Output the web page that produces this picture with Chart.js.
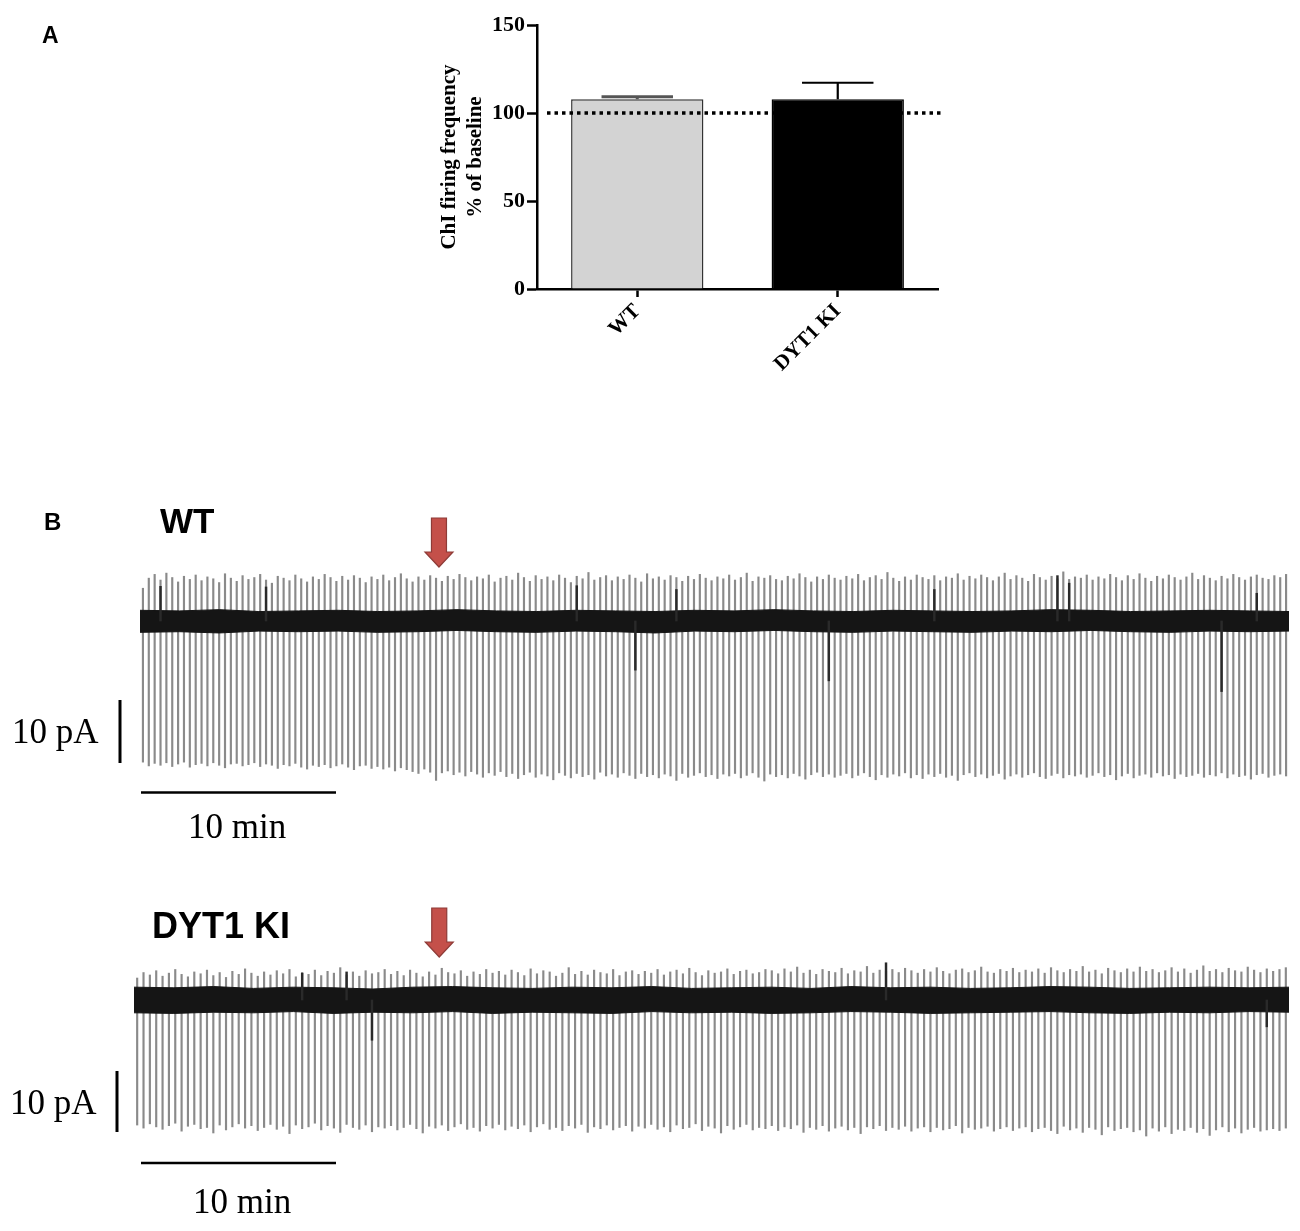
<!DOCTYPE html>
<html><head><meta charset="utf-8">
<script src="https://cdn.jsdelivr.net/npm/chart.js@4.4.1/dist/chart.umd.min.js"></script>
<style>
html,body{margin:0;padding:0;background:#fff;}
#page{position:relative;width:1300px;height:1231px;overflow:hidden;background:#fff;}
canvas{position:absolute;}
svg{position:absolute;left:0;top:0;pointer-events:none;}
</style></head><body>
<div id="page">
<canvas id="barA" width="560" height="420" style="left:400px;top:0px"></canvas>
<canvas id="wtTrace" width="1149" height="295" style="left:140px;top:505px"></canvas>
<canvas id="dytTrace" width="1155" height="250" style="left:134px;top:900px"></canvas>
<svg width="1300" height="1231" viewBox="0 0 1300 1231">
  <g font-family="Liberation Sans, Arial, sans-serif" font-weight="bold" fill="#000">
    <text x="42" y="43" font-size="23">A</text>
    <text x="44" y="530" font-size="24">B</text>
    <text x="160" y="533" font-size="35">WT</text>
    <text x="152" y="938" font-size="36">DYT1 KI</text>
  </g>
  <g stroke="#000" stroke-width="3">
    <line x1="120" y1="700" x2="120" y2="763"/>
    <line x1="141" y1="792.5" x2="336" y2="792.5" stroke-width="2.5"/>
    <line x1="117" y1="1071" x2="117" y2="1132"/>
    <line x1="141" y1="1163" x2="336" y2="1163" stroke-width="2.5"/>
  </g>
  <g font-family="Liberation Serif, Times New Roman, serif" font-size="35" fill="#000">
    <text x="12" y="743">10 pA</text>
    <text x="188" y="838">10 min</text>
    <text x="10" y="1114">10 pA</text>
    <text x="193" y="1213">10 min</text>
  </g>
</svg>
</div>
<script>
// ---------- Panel A data ----------
const groups = ['WT', 'DYT1 KI'];
const meanPct = [107.8, 107.8];
const semPct = [1.4, 9.4];
const baselinePct = 100;
const yTicksA = [0, 50, 100, 150];

// ---------- Panel B, WT trace (pA relative to holding baseline) ----------
const wtPeaks = [
5.2,6.8,7.4,6.5,7.6,6.9,6.2,7.1,6.6,7.3,6.4,7.0,6.7,6.1,7.5,6.8,6.3,7.2,6.6,6.9,
7.4,6.5,6.0,7.1,6.8,6.4,7.3,6.7,6.2,7.0,6.6,7.4,6.9,6.3,7.1,6.5,7.2,6.8,6.1,7.0,
6.6,7.3,6.4,6.9,7.5,6.7,6.2,7.0,6.5,7.2,6.8,6.3,7.1,6.6,7.4,6.9,6.4,7.0,6.7,7.3,
6.2,6.8,7.1,6.5,7.6,6.9,6.3,7.2,6.6,7.0,6.4,7.3,6.8,6.1,7.1,6.7,7.7,6.5,6.9,7.2,
6.4,7.0,6.6,7.3,6.8,6.2,7.5,6.7,7.0,6.5,7.2,6.9,6.3,7.1,6.6,7.4,6.8,6.4,7.0,6.7,
7.3,6.5,6.9,7.6,6.3,7.0,6.8,7.2,6.6,6.4,7.1,6.7,7.5,6.9,6.2,7.0,6.6,7.3,6.8,6.5,
7.1,6.7,7.4,6.4,6.9,7.2,6.6,7.7,6.8,6.3,7.0,6.5,7.3,6.9,6.6,7.2,6.4,7.0,6.8,7.5,
6.5,7.1,6.7,7.3,6.9,6.4,7.0,7.6,6.6,7.2,6.8,6.3,7.4,6.9,6.5,7.1,6.7,7.8,6.6,7.0,
6.8,7.3,6.5,7.0,6.7,7.4,6.9,6.4,7.2,6.6,7.5,6.8,6.3,7.1,6.7,7.3,6.9,6.5,7.0,7.6,
6.6,7.2,6.8,6.4,7.1,6.7,7.4,6.9,6.5,7.0,7.3,6.8,6.6,7.2,6.9,7.4
];
const wtTroughs = [
-22.4,-23.0,-22.6,-22.9,-22.5,-23.1,-22.7,-22.4,-23.2,-22.8,-22.6,-23.0,-22.5,-22.9,-23.3,-22.7,-22.6,-23.0,-22.8,-22.5,
-23.1,-22.7,-22.9,-23.4,-22.8,-23.0,-22.6,-23.2,-23.5,-22.9,-23.1,-22.8,-23.3,-23.0,-22.7,-23.2,-23.6,-23.0,-22.9,-23.4,
-23.1,-23.5,-23.2,-23.8,-23.3,-23.6,-23.9,-24.2,-23.5,-24.0,-25.3,-24.1,-23.8,-24.4,-24.0,-24.6,-23.9,-24.3,-24.8,-24.1,
-24.5,-23.9,-24.7,-24.2,-25.0,-24.4,-24.0,-24.8,-24.3,-24.6,-25.2,-24.1,-24.5,-24.9,-24.2,-24.7,-24.4,-25.1,-24.0,-24.6,
-24.3,-24.8,-24.1,-24.5,-25.0,-24.2,-24.7,-24.4,-24.9,-24.3,-24.6,-25.3,-24.2,-24.8,-24.5,-24.1,-24.7,-24.4,-25.0,-24.3,
-24.6,-24.2,-24.9,-24.5,-24.1,-24.8,-25.4,-24.3,-24.7,-24.4,-24.9,-24.2,-24.6,-25.1,-24.4,-24.0,-24.7,-24.3,-24.8,-24.5,
-24.2,-24.9,-24.5,-24.1,-24.7,-25.2,-24.4,-24.8,-24.3,-24.6,-24.1,-24.9,-24.4,-25.0,-24.3,-24.7,-24.2,-24.8,-24.5,-25.3,
-24.4,-24.1,-24.7,-24.3,-24.9,-24.5,-24.2,-25.1,-24.6,-24.3,-24.8,-24.4,-24.1,-24.7,-25.0,-24.5,-24.2,-24.9,-24.4,-24.6,
-24.3,-24.8,-24.5,-24.1,-24.7,-24.4,-25.2,-24.6,-24.2,-24.9,-24.5,-24.3,-24.8,-24.1,-24.6,-24.4,-25.0,-24.3,-24.7,-24.5,
-24.2,-24.8,-24.4,-24.6,-24.1,-24.9,-24.3,-24.7,-24.5,-25.1,-24.4,-24.2,-24.8,-24.5,-24.3,-24.6
];
const wtBandTop = [1.7,1.6,1.8,1.5,1.6,1.7,1.5,1.6,1.8,1.6,1.5,1.7,1.6,1.5,1.7,1.6,1.8,1.6,1.5,1.7,1.6,1.5,1.6,1.8,1.7,1.5,1.6,1.7,1.6,1.5];
const wtBandBottom = [-1.8,-1.7,-1.9,-1.6,-1.7,-1.6,-1.8,-1.7,-1.5,-1.7,-1.8,-1.6,-1.7,-1.9,-1.6,-1.7,-1.5,-1.7,-1.8,-1.6,-1.7,-1.8,-1.6,-1.7,-1.5,-1.7,-1.8,-1.6,-1.7,-1.6];
const wtDarkIdx = [3,21,74,84,91,117,135,156,158,184,190];
const wtDarkLo  = [0,0,0,-7.8,0,-9.5,0,0,0,-11.2,0];
const wtDarkHi  = [5.5,5.4,5.6,0,5.0,0,5.0,7.2,6.0,0,4.4];
const wtDrugAt = 50.5;

// ---------- Panel B, DYT1 KI trace ----------
const dytPeaks = [
3.6,4.5,4.1,4.8,3.9,4.4,5.0,4.2,3.8,4.6,4.3,4.9,4.0,4.5,3.7,4.7,4.2,5.1,4.4,3.9,
4.6,4.1,4.8,4.3,5.0,3.8,4.5,4.2,4.9,4.0,4.7,4.4,5.3,4.1,4.6,3.9,4.8,4.3,4.5,5.0,
4.2,4.7,4.0,4.9,4.4,3.8,4.6,4.1,5.2,4.5,4.3,4.8,3.9,4.6,4.2,5.0,4.4,4.7,4.1,4.9,
4.5,4.0,5.1,4.3,4.8,4.6,3.9,4.4,5.3,4.2,4.7,4.1,4.9,4.5,4.3,5.0,4.0,4.6,4.8,4.2,
4.7,4.4,5.0,4.1,4.6,4.9,4.3,5.2,4.5,4.0,4.8,4.4,4.6,5.1,4.2,4.7,4.9,4.3,4.5,5.0,
4.8,4.3,5.1,4.6,5.4,4.4,4.9,4.2,5.0,4.7,4.5,5.2,4.3,4.8,4.6,5.5,4.4,4.9,4.7,5.0,
4.5,5.2,4.8,4.4,5.0,4.6,5.3,4.7,4.3,4.9,5.1,4.5,4.8,5.4,4.6,4.4,5.0,4.7,5.2,4.5,
4.9,4.6,5.1,4.4,5.3,4.8,4.5,5.0,4.7,5.5,4.6,4.9,4.3,5.2,4.8,4.5,5.1,4.6,5.4,4.7,
5.0,4.5,4.8,5.3,4.6,5.1,4.4,4.9,5.6,4.7,5.0,4.5,5.2,4.8,4.6,5.4,4.9,4.5,5.1,4.7,
5.0,5.3
];
const dytTroughs = [
-20.5,-21.0,-20.3,-20.8,-21.2,-20.6,-20.2,-21.5,-20.7,-20.4,-21.1,-20.9,-21.8,-20.5,-21.3,-20.8,-20.3,-21.0,-20.6,-21.4,
-20.9,-20.4,-21.2,-20.7,-21.9,-20.5,-21.1,-20.8,-20.2,-21.3,-20.6,-21.0,-21.7,-20.4,-20.9,-21.2,-20.5,-21.6,-20.8,-21.0,
-20.6,-21.3,-20.9,-20.4,-21.1,-21.8,-20.7,-21.0,-20.5,-21.4,-20.8,-20.3,-21.2,-20.9,-21.5,-20.6,-21.0,-20.4,-21.3,-20.7,
-21.1,-20.5,-21.6,-20.8,-20.3,-21.2,-20.9,-21.4,-20.6,-21.0,-20.4,-21.7,-20.8,-21.1,-20.5,-21.3,-20.9,-20.6,-21.5,-20.7,
-21.0,-20.4,-21.2,-20.8,-21.6,-20.5,-21.1,-20.9,-20.3,-21.4,-20.7,-21.0,-21.8,-20.6,-21.2,-20.8,-20.4,-21.3,-20.9,-21.1,
-20.6,-21.4,-20.8,-21.1,-20.5,-21.7,-20.9,-21.2,-20.6,-21.5,-21.0,-20.7,-21.3,-20.9,-21.9,-20.8,-21.1,-20.6,-21.4,-20.9,
-21.2,-20.7,-21.5,-21.0,-20.8,-21.6,-20.9,-21.3,-21.1,-20.6,-21.8,-20.9,-21.2,-21.0,-20.7,-21.5,-21.1,-20.8,-21.4,-21.0,
-20.8,-21.6,-21.1,-20.9,-21.4,-21.9,-20.7,-21.3,-21.0,-21.7,-20.9,-21.2,-22.1,-20.8,-21.4,-21.1,-20.9,-21.6,-21.3,-22.3,
-21.0,-21.5,-20.8,-21.9,-21.2,-21.4,-20.9,-21.7,-21.1,-22.2,-21.3,-20.8,-21.6,-21.0,-21.8,-21.2,-20.9,-21.5,-21.3,-21.1,
-21.4,-21.0
];
const dytBandTop = [2.1,2.0,2.2,1.9,2.1,2.0,1.8,2.1,2.2,2.0,1.9,2.1,2.0,2.2,1.9,2.0,2.1,1.9,2.2,2.0,2.1,1.9,2.0,2.2,2.1,1.9,2.0,2.1,2.0,2.1];
const dytBandBottom = [-2.1,-2.2,-2.0,-2.1,-1.9,-2.2,-2.0,-2.1,-1.9,-2.2,-2.0,-2.1,-2.2,-1.9,-2.1,-2.0,-2.2,-2.1,-1.9,-2.0,-2.2,-2.1,-2.0,-1.9,-2.1,-2.2,-2.0,-2.1,-1.9,-2.0];
const dytDarkIdx = [26,33,37,118,178];
const dytDarkLo  = [0,0,-6.6,0,-4.4];
const dytDarkHi  = [4.4,4.6,0,6.1,0];
const dytDrugAt = 47.6;

// ---------- plugins ----------
const panelAPlugin = {
  id: 'panelA',
  afterDatasetsDraw(chart) {
    const {ctx, scales: {y}, chartArea} = chart;
    const meta = chart.getDatasetMeta(0);
    ctx.save();
    const yb = y.getPixelForValue(baselinePct);
    ctx.setLineDash([3.5, 4]);
    ctx.lineWidth = 3.5;
    ctx.strokeStyle = '#000';
    ctx.beginPath();
    ctx.moveTo(chartArea.left + 10, yb);
    ctx.lineTo(chartArea.right + 4, yb);
    ctx.stroke();
    ctx.setLineDash([]);
    meta.data.forEach((bar, i) => {
      const top = y.getPixelForValue(meanPct[i] + semPct[i]);
      const cap = bar.width * 0.27;
      ctx.lineWidth = i === 0 ? 3 : 2.2;
      ctx.strokeStyle = i === 0 ? '#555' : '#000';
      ctx.beginPath();
      ctx.moveTo(bar.x, bar.y);
      ctx.lineTo(bar.x, top);
      ctx.moveTo(bar.x - cap, top);
      ctx.lineTo(bar.x + cap, top);
      ctx.stroke();
    });
    ctx.restore();
  }
};

const arrowPlugin = {
  id: 'stimArrow',
  afterDraw(chart, args, o) {
    const x = chart.scales.x.getPixelForValue(o.at);
    const ctx = chart.ctx;
    ctx.save();
    ctx.beginPath();
    ctx.moveTo(x - o.shaft, o.top);
    ctx.lineTo(x + o.shaft, o.top);
    ctx.lineTo(x + o.shaft, o.head);
    ctx.lineTo(x + o.headW, o.head);
    ctx.lineTo(x, o.tip);
    ctx.lineTo(x - o.headW, o.head);
    ctx.lineTo(x - o.shaft, o.head);
    ctx.closePath();
    ctx.fillStyle = '#c4504a';
    ctx.fill();
    ctx.strokeStyle = '#8e3b37';
    ctx.lineWidth = 1.2;
    ctx.stroke();
    ctx.restore();
  }
};

// ---------- Panel A chart ----------
const serifBold = {family: 'Liberation Serif', weight: 'bold', size: 22};
new Chart(document.getElementById('barA'), {
  type: 'bar',
  data: {
    labels: groups,
    datasets: [{
      data: meanPct,
      backgroundColor: ['#d3d3d3', '#000000'],
      borderColor: ['#333333', '#000000'],
      borderWidth: 1.5,
      barPercentage: 0.66,
      categoryPercentage: 1
    }]
  },
  options: {
    responsive: false, animation: false, events: [],
    layout: {padding: {top: 25, right: 22, left: 0, bottom: 0}},
    plugins: {legend: {display: false}, tooltip: {enabled: false}},
    scales: {
      x: {
        grid: {display: true, drawOnChartArea: false, offset: false, tickLength: 8, tickColor: '#000', tickWidth: 2.5},
        border: {color: '#000', width: 2.5},
        ticks: {color: '#000', font: {family: 'Liberation Serif', weight: 'bold', size: 21}, minRotation: 45, maxRotation: 45, padding: 2},
        afterFit(s) { s.height = 131; }
      },
      y: {
        min: 0, max: 150,
        grid: {drawOnChartArea: false, tickLength: 10, tickColor: '#000', tickWidth: 2.5},
        border: {color: '#000', width: 2.5},
        ticks: {color: '#000', font: serifBold, padding: 2},
        afterBuildTicks(s) { s.ticks = yTicksA.map(v => ({value: v})); },
        title: {
          display: true,
          text: ['ChI firing frequency', '% of baseline'],
          color: '#000',
          font: {family: 'Liberation Serif', weight: 'bold', size: 21, lineHeight: 1.25},
          padding: {top: 36, bottom: 0}
        },
        afterFit(s) { s.width = 137; }
      }
    }
  },
  plugins: [panelAPlugin]
});

// ---------- trace charts ----------
function traceChart(id, peaks, troughs, bandTop, bandBottom, darkIdx, darkLo, darkHi, arrowOpts, yMin, yMax) {
  const labels = peaks.map((_, i) => i + 1);
  const spikes = troughs.map((t, i) => [t, peaks[i]]);
  const dark = peaks.map(() => null);
  darkIdx.forEach((k, j) => { dark[k] = [darkLo[j], darkHi[j]]; });
  return new Chart(document.getElementById(id), {
    type: 'bar',
    data: {
      labels,
      datasets: [
        {type: 'line', xAxisID: 'xb', data: bandTop.map((v, i) => ({x: i, y: v})),
         borderColor: '#151515', borderWidth: 1, pointRadius: 0, fill: false, order: 2},
        {type: 'line', xAxisID: 'xb', data: bandBottom.map((v, i) => ({x: i, y: v})),
         borderColor: '#151515', borderWidth: 1, pointRadius: 0, fill: '-1', backgroundColor: '#151515', order: 2},
        {data: spikes, backgroundColor: '#8a8a8a', barThickness: 1.5, grouped: false, order: 3},
        {data: dark, backgroundColor: '#2a2a2a', barThickness: 1.8, grouped: false, order: 1}
      ]
    },
    options: {
      responsive: false, animation: false, events: [],
      layout: {padding: 0},
      plugins: {legend: {display: false}, tooltip: {enabled: false}, stimArrow: arrowOpts},
      scales: {
        x: {display: false, offset: true},
        xb: {type: 'linear', display: false, offset: false, min: 0, max: bandTop.length - 1},
        y: {display: false, min: yMin, max: yMax}
      }
    },
    plugins: [arrowPlugin]
  });
}

traceChart('wtTrace', wtPeaks, wtTroughs, wtBandTop, wtBandBottom, wtDarkIdx, wtDarkLo, wtDarkHi,
  {at: wtDrugAt, top: 13, head: 47, tip: 62, shaft: 7.5, headW: 14}, -28.41, 18.41);
traceChart('dytTrace', dytPeaks, dytTroughs, dytBandTop, dytBandBottom, dytDarkIdx, dytDarkLo, dytDarkHi,
  {at: dytDrugAt, top: 8, head: 42, tip: 57, shaft: 7.5, headW: 14}, -24.59, 16.39);
</script>
</body></html>
